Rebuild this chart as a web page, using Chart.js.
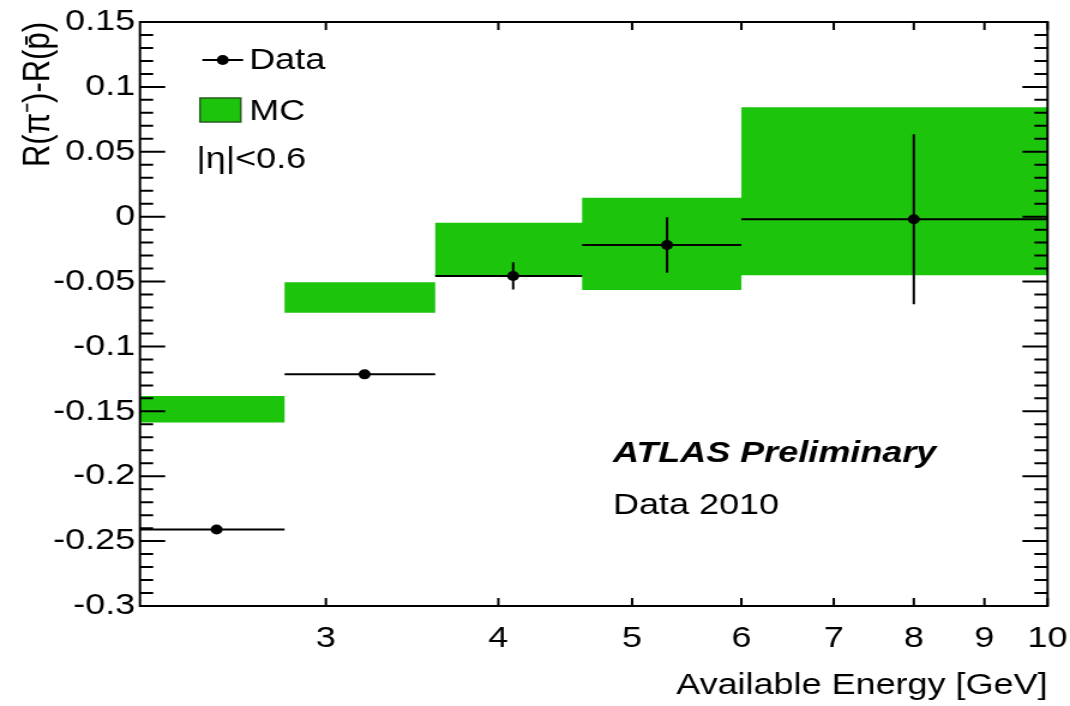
<!DOCTYPE html>
<html>
<head>
<meta charset="utf-8">
<script src="https://cdn.jsdelivr.net/npm/chart.js@4.4.1/dist/chart.umd.min.js"></script>
<style>
  html, body { margin: 0; padding: 0; background: #fff; }
</style>
</head>
<body>
<!-- the original figure is stretched sideways, so the canvas is too -->
<canvas id="chart" width="892" height="706" style="display:block;width:1070px;height:706px"></canvas>
<script>
// --- data ---
const binEdges = [2.2, 2.8, 3.6, 4.6, 6.0, 10];
const dataX = [2.5, 3.2, 4.1, 5.3, 8.0];
const dataY = [-0.241, -0.1215, -0.0457, -0.0218, -0.002];
const dataErr = [0.003, 0.003, 0.0105, 0.0214, 0.0655];
const mcHigh = [-0.1382, -0.0506, -0.0046, 0.0146, 0.0843];
const mcLow = [-0.1587, -0.0740, -0.0457, -0.0565, -0.0452];
const xTicks = [3, 4, 5, 6, 7, 8, 9, 10];
const xTickLabels = ['3', '4', '5', '6', '7', '8', '9', '10'];
const yTicks = [-0.3, -0.25, -0.2, -0.15, -0.1, -0.05, 0, 0.05, 0.1, 0.15];
const yTickLabels = ['-0.3', '-0.25', '-0.2', '-0.15', '-0.1', '-0.05', '0', '0.05', '0.1', '0.15'];

const GREEN = '#1cc40c';
const FONT = "'Liberation Sans', Arial, Helvetica, sans-serif";

// step outline of the MC band: one point per bin edge
const stepPoints = vals => binEdges.map((x, i) => ({ x, y: vals[Math.min(i, vals.length - 1)] }));

// horizontal (bin width) and vertical error bars under the data points
const errorBars = {
    id: 'errorBars',
    beforeDatasetDraw(chart, args) {
        if (args.index !== 0) return;
        const { ctx, chartArea: ca, scales: { x, y } } = chart;
        ctx.save();
        ctx.beginPath();
        ctx.rect(ca.left, ca.top, ca.right - ca.left, ca.bottom - ca.top);
        ctx.clip();
        ctx.strokeStyle = '#000';
        ctx.lineWidth = 2;
        dataX.forEach((vx, i) => {
            const py = y.getPixelForValue(dataY[i]);
            const px = x.getPixelForValue(vx);
            ctx.beginPath();
            ctx.moveTo(x.getPixelForValue(binEdges[i]), py);
            ctx.lineTo(x.getPixelForValue(binEdges[i + 1]), py);
            ctx.moveTo(px, y.getPixelForValue(dataY[i] + dataErr[i]));
            ctx.lineTo(px, y.getPixelForValue(dataY[i] - dataErr[i]));
            ctx.stroke();
        });
        ctx.restore();
    }
};

// ROOT style frame with inward ticks, legend and labels
const frame = {
    id: 'frame',
    afterDraw(chart) {
        const { ctx, chartArea: ca, scales: { x, y } } = chart;
        ctx.save();
        ctx.strokeStyle = '#000';
        ctx.lineWidth = 2;
        ctx.strokeRect(ca.left, ca.top, ca.right - ca.left, ca.bottom - ca.top);

        ctx.beginPath();
        for (let k = -30; k <= 15; k++) {
            const py = y.getPixelForValue(k / 100);
            const len = k % 5 === 0 ? 21 : 11;
            ctx.moveTo(ca.left, py); ctx.lineTo(ca.left + len, py);
            ctx.moveTo(ca.right, py); ctx.lineTo(ca.right - len, py);
        }
        xTicks.forEach(v => {
            const px = x.getPixelForValue(v);
            ctx.moveTo(px, ca.bottom); ctx.lineTo(px, ca.bottom - 8);
            ctx.moveTo(px, ca.top); ctx.lineTo(px, ca.top + 8);
        });
        ctx.stroke();

        // legend
        const lx = ca.left, ty = ca.top;
        ctx.beginPath();
        ctx.moveTo(lx + 52, ty + 38); ctx.lineTo(lx + 86, ty + 38);
        ctx.stroke();
        ctx.fillStyle = '#000';
        ctx.beginPath();
        ctx.arc(lx + 69, ty + 38, 5, 0, Math.PI * 2);
        ctx.fill();
        ctx.fillStyle = GREEN;
        ctx.fillRect(lx + 50, ty + 76, 34, 24);
        ctx.strokeStyle = '#2a5a22';
        ctx.lineWidth = 1.5;
        ctx.strokeRect(lx + 50, ty + 76, 34, 24);

        ctx.fillStyle = '#000';
        ctx.textBaseline = 'middle';
        ctx.font = '30px ' + FONT;
        ctx.fillText('Data', lx + 91, ty + 39);
        ctx.fillText('MC', lx + 91, ty + 90);
        ctx.fillText('|η|<0.6', lx + 47, ty + 138);

        ctx.font = 'italic bold 30px ' + FONT;
        ctx.fillText('ATLAS Preliminary', 511, 454);
        ctx.font = '30px ' + FONT;
        ctx.fillText('Data 2010', 511, 506);
        ctx.restore();
    }
};

new Chart(document.getElementById('chart'), {
    type: 'line',
    data: {
        datasets: [
            {
                label: 'Data',
                data: dataX.map((x, i) => ({ x, y: dataY[i] })),
                showLine: false,
                pointRadius: 5,
                pointBackgroundColor: '#000',
                pointBorderWidth: 0
            },
            {
                label: 'MC',
                data: stepPoints(mcHigh),
                stepped: 'before',
                borderColor: 'rgba(0,0,0,0)',
                backgroundColor: GREEN,
                pointRadius: 0,
                fill: '+1'
            },
            {
                label: 'MC low',
                data: stepPoints(mcLow),
                stepped: 'before',
                borderColor: 'rgba(0,0,0,0)',
                pointRadius: 0,
                fill: false
            }
        ]
    },
    options: {
        responsive: false,
        animation: false,
        devicePixelRatio: 1,
        layout: { padding: { top: 22, right: 18.7, left: 0, bottom: 0 } },
        plugins: { legend: { display: false }, tooltip: { enabled: false } },
        scales: {
            x: {
                type: 'logarithmic',
                min: 2.2,
                max: 10,
                grid: { display: false, drawTicks: false },
                border: { display: false },
                afterBuildTicks: s => { s.ticks = xTicks.map(v => ({ value: v })); },
                afterFit: s => { s.height = 100; s.paddingLeft = 0; s.paddingRight = 0; },
                ticks: {
                    autoSkip: false,
                    maxRotation: 0,
                    padding: 15,
                    color: '#000',
                    font: { family: FONT, size: 30 },
                    callback: (v, i) => xTickLabels[i]
                },
                title: {
                    display: true,
                    text: 'Available Energy [GeV]',
                    align: 'end',
                    color: '#000',
                    font: { family: FONT, size: 30 },
                    padding: { top: 0, bottom: 2 }
                }
            },
            y: {
                type: 'linear',
                min: -0.3,
                max: 0.15,
                grid: { display: false, drawTicks: false },
                border: { display: false },
                afterBuildTicks: s => { s.ticks = yTicks.map(v => ({ value: v })); },
                afterFit: s => { s.width = 116.7; s.paddingTop = 0; s.paddingBottom = 0; },
                ticks: {
                    autoSkip: false,
                    padding: 4,
                    color: '#000',
                    font: { family: FONT, size: 30 },
                    callback: (v, i) => yTickLabels[i]
                },
                title: {
                    display: true,
                    text: 'R(π⁻)-R(p̄)',
                    align: 'end',
                    color: '#000',
                    font: { family: FONT, size: 31 },
                    padding: { top: 14, bottom: 0 }
                }
            }
        }
    },
    plugins: [errorBars, frame]
});
</script>
</body>
</html>
